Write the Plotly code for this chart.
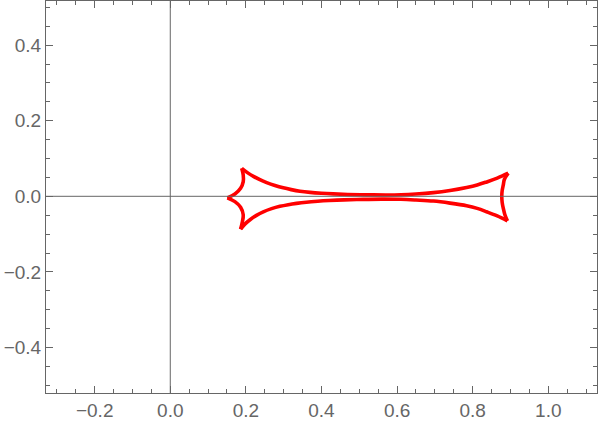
import plotly.graph_objects as go

# Caustic-like closed curve, split into arcs between cusps
upper_x = [0.189, 0.205, 0.220, 0.237, 0.255, 0.277, 0.299, 0.320, 0.343, 0.370, 0.400, 0.431,
           0.470, 0.520, 0.570, 0.610, 0.650, 0.696, 0.740, 0.784, 0.812, 0.837, 0.865, 0.894]
upper_y = [0.074, 0.062, 0.0527, 0.0439, 0.0362, 0.0285, 0.0223, 0.0177, 0.0136, 0.0104, 0.0080,
           0.0063, 0.0049, 0.0039, 0.0035, 0.0040, 0.0060, 0.0098, 0.0155, 0.0235, 0.030, 0.038,
           0.048, 0.061]

right_x = [0.894, 0.884, 0.881, 0.878, 0.877, 0.878, 0.881, 0.885, 0.892]
right_y = [0.061, 0.045, 0.030, 0.015, 0.0, -0.016, -0.032, -0.048, -0.065]

lower_x = [0.892, 0.865, 0.837, 0.812, 0.784, 0.740, 0.696, 0.650, 0.610, 0.560, 0.510, 0.460,
           0.420, 0.390, 0.360, 0.334, 0.312, 0.290, 0.268, 0.246, 0.228, 0.211, 0.198, 0.186]
lower_y = [-0.065, -0.052, -0.041, -0.032, -0.025, -0.018, -0.0126, -0.0098, -0.0080, -0.0076,
           -0.0082, -0.0095, -0.0113, -0.0132, -0.0157, -0.0187, -0.0221, -0.0265, -0.0327,
           -0.041, -0.0504, -0.062, -0.073, -0.087]

leftlow_x = [0.186, 0.190, 0.193, 0.186, 0.171, 0.151]
leftlow_y = [-0.087, -0.071, -0.049, -0.029, -0.014, -0.004]

leftup_x = [0.151, 0.171, 0.186, 0.193, 0.193, 0.189]
leftup_y = [-0.004, 0.006, 0.021, 0.039, 0.056, 0.074]

x_ticks = [-0.2, 0.0, 0.2, 0.4, 0.6, 0.8, 1.0]
y_ticks = [-0.4, -0.2, 0.0, 0.2, 0.4]

arcs = [(upper_x, upper_y), (right_x, right_y), (lower_x, lower_y),
        (leftlow_x, leftlow_y), (leftup_x, leftup_y)]

fig = go.Figure()
for ax, ay in arcs:
    fig.add_trace(go.Scatter(x=ax, y=ay, mode="lines",
                             line=dict(color="#FF0000", width=3.6, shape="spline", smoothing=1.0),
                             showlegend=False, hoverinfo="skip"))

gray = "#666666"
axis_common = dict(showgrid=False, zeroline=False, showline=True, linecolor=gray, linewidth=1,
                   mirror="allticks", ticks="inside", ticklen=7, tickwidth=1, tickcolor=gray,
                   tickformat=".1f", tickfont=dict(family="Liberation Sans, Arial", size=19, color=gray),
                   minor=dict(ticks="inside", ticklen=4, tickwidth=1, tickcolor=gray, dtick=0.05),
                   layer="above traces")

fig.update_xaxes(range=[-0.3288, 1.1289], tickvals=x_ticks, **axis_common)
fig.update_yaxes(range=[-0.5204, 0.5167], tickvals=y_ticks, **axis_common)

# axes through origin (drawn above the curve, as in the reference)
fig.add_shape(type="line", xref="x", yref="y domain", x0=0, x1=0, y0=0, y1=1,
              line=dict(color=gray, width=1), layer="above")
fig.add_shape(type="line", xref="x domain", yref="y", x0=0, x1=1, y0=0, y1=0,
              line=dict(color=gray, width=1), layer="above")

fig.update_layout(width=600, height=425, margin=dict(l=46, r=3, t=1, b=32, autoexpand=False),
                  plot_bgcolor="white", paper_bgcolor="white")

fig.write_html("out.html", config={"displayModeBar": False},
               post_script="document.body.style.margin='0';document.body.style.overflow='hidden';")
